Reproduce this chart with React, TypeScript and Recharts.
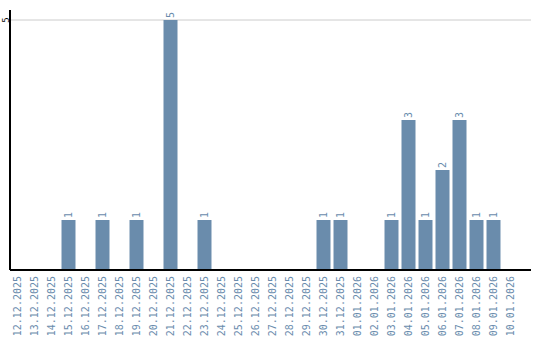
import React from 'react';
import { BarChart, Bar, XAxis, YAxis, CartesianGrid, LabelList } from 'recharts';

const dates = [
  '12.12.2025','13.12.2025','14.12.2025','15.12.2025','16.12.2025','17.12.2025','18.12.2025','19.12.2025','20.12.2025','21.12.2025',
  '22.12.2025','23.12.2025','24.12.2025','25.12.2025','26.12.2025','27.12.2025','28.12.2025','29.12.2025','30.12.2025','31.12.2025',
  '01.01.2026','02.01.2026','03.01.2026','04.01.2026','05.01.2026','06.01.2026','07.01.2026','08.01.2026','09.01.2026','10.01.2026',
];
const counts = [0,0,0,1,0,1,0,1,0,5, 0,1,0,0,0,0,0,0,1,1, 0,0,1,3,1,2,3,1,1,0];
const yTicks = [5];

const data = dates.map((d, i) => ({ date: d, count: counts[i] }));

const BAR = '#6a8cac';
const TXT = '#6a8cad';
const FONT = '"DejaVu Sans Mono", monospace';

const XTick = (props: any) => {
  const { x, payload } = props;
  const ty = 276;
  return (
    <text x={x} y={ty} transform={`rotate(-90, ${x}, ${ty})`} textAnchor="end" dominantBaseline="central"
      fill={TXT} fontSize={10} fontFamily={FONT}>{payload.value}</text>
  );
};

const YTick = (props: any) => {
  const { y, payload } = props;
  const x = 5.5;
  return (
    <text x={x} y={y} transform={`rotate(-90, ${x}, ${y})`} textAnchor="middle" dominantBaseline="central"
      fill="#000" fontSize={9} fontFamily={FONT}>{payload.value}</text>
  );
};

const ValueLabel = (props: any) => {
  const { x, y, width, value } = props;
  if (!value) return null;
  const cx = x + width / 2;
  const cy = y - 2;
  return (
    <text x={cx} y={cy} transform={`rotate(-90, ${cx}, ${cy})`} textAnchor="start" dominantBaseline="central"
      fill={TXT} fontSize={10} fontFamily={FONT}>{value}</text>
  );
};

export default function App() {
  return (
    <div style={{ position: 'absolute', left: 0, top: 0 }}>
      <BarChart width={540} height={340} data={data} margin={{ top: 10, right: 9, bottom: 0, left: 0 }} barSize={14}>
        <CartesianGrid horizontal vertical={false} stroke="#cccccc" horizontalValues={yTicks} />
        <XAxis dataKey="date" interval={0} height={70} tick={<XTick />} tickLine={false}
          axisLine={{ stroke: '#000', strokeWidth: 2 }} padding={{ left: -1.5, right: 12.5 }} />
        <YAxis width={10} domain={[0, 5.2]} ticks={yTicks} tick={<YTick />} tickLine={false}
          axisLine={{ stroke: '#000', strokeWidth: 2 }} />
        <Bar dataKey="count" fill={BAR} isAnimationActive={false}>
          <LabelList dataKey="count" content={<ValueLabel />} />
        </Bar>
      </BarChart>
    </div>
  );
}
